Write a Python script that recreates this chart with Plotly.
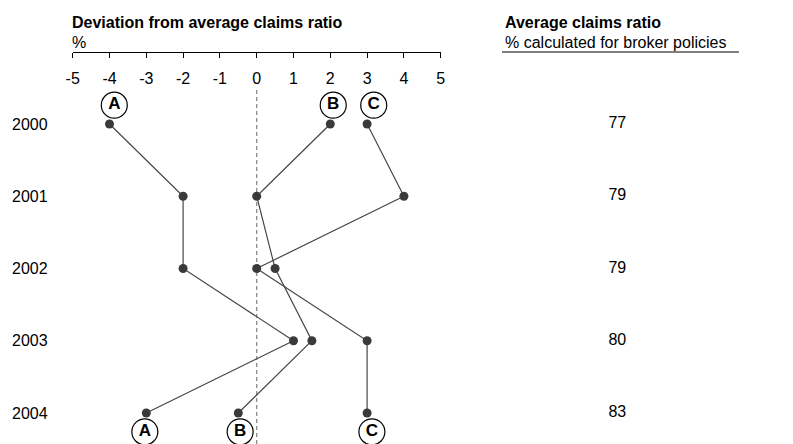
import plotly.graph_objects as go

years = [2000, 2001, 2002, 2003, 2004]
year_labels = ["2000", "2001", "2002", "2003", "2004"]
dev_A = [-4, -2, -2, 1, -3]
dev_B = [2, 0, 0.5, 1.5, -0.5]
dev_C = [3, 4, 0, 3, 3]
avg_ratio = [77, 79, 79, 80, 83]
series_names = ["A", "B", "C"]
x_ticks = [-5, -4, -3, -2, -1, 0, 1, 2, 3, 4, 5]

W, H = 793, 444
FONT = "Liberation Sans, Arial, sans-serif"
LINE_C = "#474747"
DOT_C = "#3a3a3a"

# small horizontal nudges (in axis units) of the circled labels, style only
top_nudge = [0.13, 0.08, 0.18]
bot_nudge = [-0.04, 0.05, 0.13]

fig = go.Figure()

for name, vals in zip(series_names, [dev_A, dev_B, dev_C]):
    fig.add_trace(go.Scatter(
        x=vals, y=years, mode="lines+markers", name=name,
        line=dict(color=LINE_C, width=1.2),
        marker=dict(color=DOT_C, size=9),
        showlegend=False, cliponaxis=False, hoverinfo="skip"))

# circled series labels at top (first year) and bottom (last year)
series_vals = (dev_A, dev_B, dev_C)
lab_x = [v[0] + d for v, d in zip(series_vals, top_nudge)] + \
        [v[-1] + d for v, d in zip(series_vals, bot_nudge)]
lab_y = [years[0] - 0.26] * 3 + [years[-1] + 0.26] * 3
lab_t = series_names + series_names
fig.add_trace(go.Scatter(
    x=lab_x, y=lab_y, mode="markers+text", text=lab_t,
    textposition="middle center",
    textfont=dict(family=FONT, size=17, color="#000000", weight="bold"),
    marker=dict(symbol="circle", size=26, color="white",
                line=dict(color="#000000", width=1.2)),
    showlegend=False, cliponaxis=False, hoverinfo="skip"))

# right column values
fig.add_trace(go.Scatter(
    x=[0.5] * len(years), y=years, mode="text",
    text=[str(v) for v in avg_ratio], xaxis="x2",
    textfont=dict(family=FONT, size=16, color="#000000"),
    showlegend=False, hoverinfo="skip", cliponaxis=False))

px_per_year = 72.25
y_top = 2000 - 124 / px_per_year
y_bot = y_top + H / px_per_year

fig.update_layout(
    width=W, height=H, autosize=False,
    margin=dict(l=0, r=0, t=0, b=0, pad=0, autoexpand=False),
    paper_bgcolor="white", plot_bgcolor="white",
    font=dict(family=FONT, size=16, color="#000000"),
    xaxis=dict(domain=[72.7 / W, 440.7 / W], range=[-5, 5],
               anchor="free", position=1 - 52 / H, side="bottom",
               automargin=False,
               showline=True, linecolor="#000000", linewidth=1,
               ticks="outside", ticklen=5, tickcolor="#000000",
               ticklabelstandoff=7,
               tickvals=x_ticks, ticktext=[str(t) for t in x_ticks],
               showgrid=False, zeroline=False,
               tickfont=dict(family=FONT, size=16, color="#000000")),
    xaxis2=dict(domain=[0.70, 0.857], range=[0, 1], anchor="y",
                visible=False, showgrid=False, zeroline=False,
                automargin=False),
    yaxis=dict(domain=[0, 1], range=[y_bot, y_top],
               anchor="free", position=8 / W, side="left",
               automargin=False,
               ticklabelposition="inside", ticks="",
               tickvals=years, ticktext=year_labels,
               showgrid=False, zeroline=False, showline=False,
               tickfont=dict(family=FONT, size=16, color="#000000")),
)

# dashed zero line
fig.add_shape(type="line", xref="x", yref="paper", x0=0, x1=0,
              y0=0, y1=1 - 87 / H, layer="below",
              line=dict(color="#8a8a8a", width=1.3, dash="4px,3px"))
# underline of right header
fig.add_shape(type="line", xref="paper", yref="paper",
              x0=502 / W, x1=739 / W, y0=1 - 52 / H, y1=1 - 52 / H,
              line=dict(color="#000000", width=1.2))

def ann(text, x, y, bold=False):
    fig.add_annotation(text=("<b>%s</b>" % text) if bold else text,
                       xref="paper", yref="paper", x=x / W, y=1 - y / H,
                       xanchor="left", yanchor="middle", showarrow=False,
                       font=dict(family=FONT, size=16, color="#000000"))

ann("Deviation from average claims ratio", 70, 22, bold=True)
ann("%", 70, 42)
ann("Average claims ratio", 503, 22, bold=True)
ann("% calculated for broker policies", 503, 42)

fig.write_html("out.html",
               config={"responsive": False, "displayModeBar": False},
               post_script="document.body.style.margin='0';"
                           "document.body.style.overflow='hidden';")
